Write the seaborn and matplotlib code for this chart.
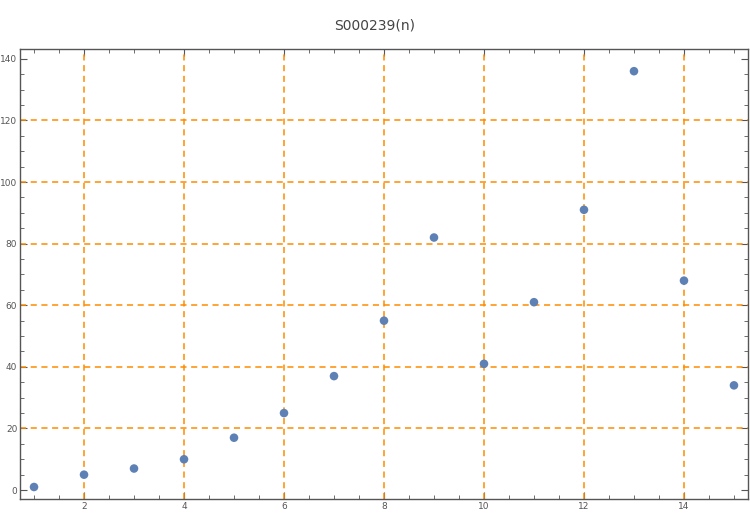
import matplotlib
matplotlib.use("Agg")
import matplotlib.pyplot as plt
import seaborn as sns
import pandas as pd
from matplotlib.ticker import MultipleLocator

n = list(range(1, 16))
values = [1, 5, 7, 10, 17, 25, 37, 55, 82, 41, 61, 91, 136, 68, 34]

# gridlines as in the original (no line at 0 or 140)
grid_x = [2, 4, 6, 8, 10, 12, 14]
grid_y = [20, 40, 60, 80, 100, 120]

df = pd.DataFrame({"n": n, "value": values})

sns.set_style("white")
fig = plt.figure(figsize=(7.5, 5.17), dpi=100)
ax = fig.add_axes([0.0267, 0.0348, 0.9706, 0.8704])

for gx in grid_x:
    ax.axvline(gx, color="#ff8c00", linestyle=(0, (4, 3)), linewidth=1.1, zorder=1)
for gy in grid_y:
    ax.axhline(gy, color="#ff8c00", linestyle=(0, (4, 3)), linewidth=1.1, zorder=1)

sns.scatterplot(data=df, x="n", y="value", ax=ax, color="#5e81b5", s=38,
                edgecolor="none", zorder=3)

ax.set_xlim(0.72, 15.28)
ax.set_ylim(-2.9, 143.2)
ax.xaxis.set_major_locator(MultipleLocator(2))
ax.xaxis.set_minor_locator(MultipleLocator(0.5))
ax.yaxis.set_major_locator(MultipleLocator(20))
ax.yaxis.set_minor_locator(MultipleLocator(5))

for s in ax.spines.values():
    s.set_color("#555555")
    s.set_linewidth(1.0)

ax.tick_params(which="both", direction="in", top=True, right=True,
               bottom=True, left=True, colors="#555555", labelsize=6.5,
               labelcolor="#555555", pad=2)
ax.tick_params(which="major", length=5)
ax.tick_params(which="minor", length=3)
ax.tick_params(axis="x", which="both", labeltop=False)
ax.tick_params(axis="y", which="both", labelright=False)

ax.set_xlabel("")
ax.set_ylabel("")
fig.suptitle("S000239(n)", y=0.965, fontsize=10, color="#444444")

fig.savefig("out.png", dpi=100)
